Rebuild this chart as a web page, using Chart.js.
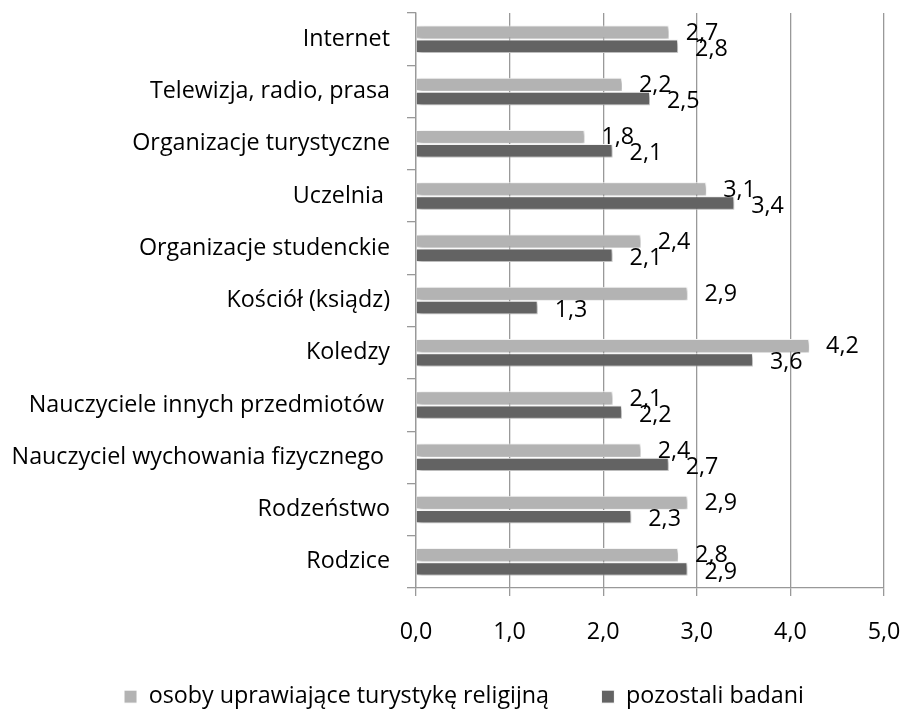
<!DOCTYPE html>
<html>
<head>
<meta charset="utf-8">
<script src="https://cdn.jsdelivr.net/npm/chart.js@4.4.1/dist/chart.umd.min.js"></script>
<style>
  html, body { margin: 0; padding: 0; background: #fff; }
  #wrap { width: 903px; height: 710px; }
</style>
</head>
<body>
<div id="wrap"><canvas id="myChart" width="903" height="710"></canvas></div>
<script>
// categories, top to bottom
var categories = ['Internet', 'Telewizja, radio, prasa', 'Organizacje turystyczne', 'Uczelnia ',
    'Organizacje studenckie', 'Kościół (ksiądz)', 'Koledzy', 'Nauczyciele innych przedmiotów ',
    'Nauczyciel wychowania fizycznego ', 'Rodzeństwo', 'Rodzice']
var religijni = [2.7, 2.2, 1.8, 3.1, 2.4, 2.9, 4.2, 2.1, 2.4, 2.9, 2.8]
var pozostali = [2.8, 2.5, 2.1, 3.4, 2.1, 1.3, 3.6, 2.2, 2.7, 2.3, 2.9]
var xTicks = [0, 1, 2, 3, 4, 5]
var seriesNames = ['osoby uprawiające turystykę religijną', 'pozostali badani']

var FONT = 'Open Sans'
var FS = 23.3

function fmt(v) {
    return v.toFixed(1).replace('.', ',')
}

// shadow under the bars
var shadowPlugin = {
    id: 'barShadow',
    beforeDatasetsDraw: function(chart) {
        var c = chart.ctx
        c.save()
        c.shadowColor = 'rgba(0,0,0,0.35)'
        c.shadowBlur = 4
        c.shadowOffsetX = 2
        c.shadowOffsetY = 2
    },
    afterDatasetsDraw: function(chart) {
        chart.ctx.restore()
    }
}

// value labels at the end of each bar
var labelPlugin = {
    id: 'valueLabels',
    afterDatasetsDraw: function(chart) {
        var c = chart.ctx
        c.save()
        c.font = FS + 'px "' + FONT + '"'
        c.fillStyle = '#000'
        c.textBaseline = 'middle'
        c.textAlign = 'left'
        chart.data.datasets.forEach(function(ds, di) {
            var meta = chart.getDatasetMeta(di)
            meta.data.forEach(function(bar, i) {
                var dy = di === 0 ? 1 : 3
                c.fillText(fmt(ds.data[i]), bar.x + 17, bar.y + dy)
            })
        })
        c.restore()
    }
}

// legend sits a bit right of centre in the original
var legendShift = {
    id: 'legendShift',
    afterLayout: function(chart) {
        chart.legend.left += 44
    }
}

var ctx = document.getElementById('myChart')
var myChart = new Chart(ctx, {
    type: 'bar',
    data: {
        labels: categories,
        datasets: [{
            label: seriesNames[0],
            data: religijni,
            backgroundColor: '#b3b3b3',
            borderColor: '#ffffff',
            borderWidth: 1,
            categoryPercentage: 0.54,
            barPercentage: 0.95
        }, {
            label: seriesNames[1],
            data: pozostali,
            backgroundColor: '#636363',
            borderColor: '#ffffff',
            borderWidth: 1,
            categoryPercentage: 0.54,
            barPercentage: 0.95
        }]
    },
    options: {
        indexAxis: 'y',
        responsive: false,
        animation: false,
        layout: { padding: { left: 0, right: 19, top: 13, bottom: 0 } },
        plugins: {
            tooltip: { enabled: false },
            legend: {
                position: 'bottom',
                maxHeight: 35,
                labels: {
                    font: { family: FONT, size: FS },
                    color: '#000',
                    boxWidth: 13,
                    boxHeight: 13,
                    padding: 10,
                    generateLabels: function(chart) {
                        var items = Chart.defaults.plugins.legend.labels.generateLabels(chart)
                        items[0].text = items[0].text + '       '
                        return items
                    }
                }
            }
        },
        scales: {
            x: {
                min: 0,
                max: 5,
                afterBuildTicks: function(scale) {
                    scale.ticks = xTicks.map(function(v) { return { value: v } })
                },
                afterFit: function(scale) {
                    scale.height = 87
                    scale.paddingLeft = 0
                    scale.paddingRight = 0
                },
                grid: { color: '#999', lineWidth: 1.3, tickLength: 8 },
                border: { color: '#999', width: 1.3 },
                ticks: {
                    font: { family: FONT, size: FS },
                    color: '#000',
                    padding: 22,
                    callback: function(v) { return fmt(v) }
                }
            },
            y: {
                afterFit: function(scale) {
                    scale.width = 416
                    scale.paddingTop = 0
                    scale.paddingBottom = 0
                },
                grid: { drawOnChartArea: false, color: '#999', lineWidth: 1.3, tickLength: 9, offset: true },
                border: { color: '#999', width: 1.3 },
                ticks: {
                    font: { family: FONT, size: FS },
                    color: '#000',
                    padding: 17
                }
            }
        }
    },
    plugins: [shadowPlugin, labelPlugin, legendShift]
})
</script>
</body>
</html>
